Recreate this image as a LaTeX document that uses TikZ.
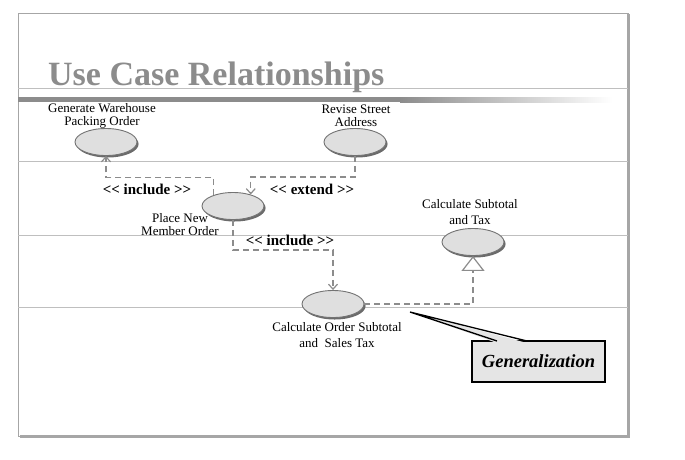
\documentclass[tikz,border=0pt]{standalone}
\usepackage{fontspec}
\setmainfont{Liberation Serif}
\usetikzlibrary{shapes.geometric,arrows.meta,shadows}

\begin{document}
\begin{tikzpicture}[x=1pt, y=-1pt,
	usecase/.style={ellipse, draw=black!55, line width=0.9pt, fill=gray!25, minimum width=62, minimum height=27, drop shadow={shadow xshift=1.6pt, shadow yshift=-2pt, fill=black!58, opacity=1}},
	lbl/.style={align=center, inner sep=0, font=\fontsize{13}{13}\selectfont},
	lbltall/.style={lbl, font=\fontsize{13}{16.5}\selectfont},
	rel/.style={inner sep=0, font=\bfseries\fontsize{15}{15}\selectfont},
	dep/.style={draw=gray!90, line width=1.2pt, dash pattern=on 6pt off 4pt, -{Straight Barb[length=5pt,width=9pt]}},
	genrel/.style={draw=gray!90, line width=1.2pt, dash pattern=on 6pt off 4pt, -{Triangle[open,length=15pt,width=23pt,fill=white]}},
	callbox/.style={draw=black, line width=1.4pt, fill=gray!20, minimum width=133, minimum height=41, font=\bfseries\itshape\fontsize{18.5}{18.5}\selectfont}]
	\useasboundingbox (0,0) rectangle (685,459);
	% slide
	\draw[gray!70, line width=0.8pt] (18,13) rectangle (628,436);
	\draw[gray!70, line width=2.5pt] (20,436.5) -- (628.5,436.5) -- (628.5,14);
	\foreach \y in {88,161,235,307} \draw[gray!50, line width=0.7pt] (18,\y) -- (628,\y);
	\fill[gray!90] (18,97) rectangle (400,102);
	\shade[left color=gray!90, right color=white] (400,97) rectangle (612,102);
	\node[anchor=base west, inner sep=0, text=gray!90, font=\bfseries\fontsize{34}{34}\selectfont] (title) at (48,85) {Use Case Relationships};

	\node[usecase] (gen) at (106,142) {}; \node[lbl] (genlbl) at (102,116) {Generate Warehouse\\Packing Order};
	\node[usecase] (rev) at (355,142) {}; \node[lbl] (revlbl) at (356,116) {Revise Street\\Address};
	\node[usecase] (place) at (233,206) {}; \node[lbl] (placelbl) at (180,225) {Place New\\Member Order};
	\node[usecase] (sub) at (473,242) {}; \node[lbltall] (sublbl) at (470,212) {Calculate Subtotal\\and Tax};
	\node[usecase] (order) at (333,304) {}; \node[lbltall] (orderlbl) at (337,335) {Calculate Order Subtotal\\and\ \ Sales Tax};

	\node[rel] (inc1) at (147,189) {<\kern0pt< include >\kern0pt>};
	\node[rel] (ext) at (312,189) {<\kern0pt< extend >\kern0pt>};
	\node[rel] (inc2) at (290,240) {<\kern0pt< include >\kern0pt>};

	\draw[dep] (place.151) -- ++(0,-18) -| (gen.south);
	\draw[dep] (rev.south) -- ++(0,21) -| (place.33);
	\draw[dep] (place.south) -- ++(0,30) -| (order.north);
	\draw[genrel] (order.east) -| (sub.south);

	% callout
	\node[callbox] (genbox) at (538.5,361.5) {Generalization};
	\coordinate (tip) at (410,312); \coordinate (pa) at (497,341); \coordinate (pb) at (527,341);
	\fill[gray!20] (497,343) -- (tip) -- (527,343) -- cycle;
	\draw[black, line width=1.3pt] (pa) -- (tip) -- (pb);
\end{tikzpicture}
\end{document}
